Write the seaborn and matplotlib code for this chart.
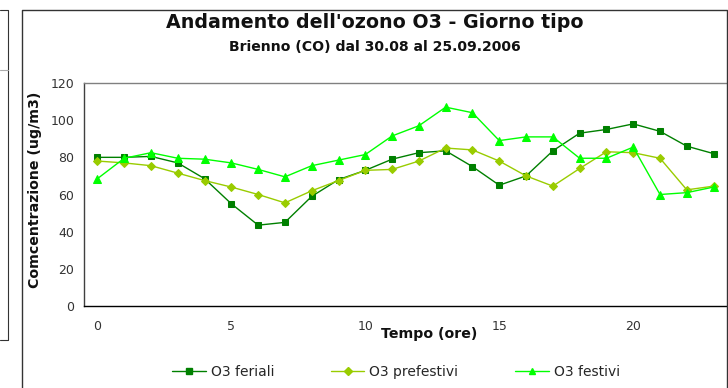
import numpy as np
import pandas as pd
import matplotlib
matplotlib.use("Agg")
import matplotlib.pyplot as plt
from matplotlib.lines import Line2D
import seaborn as sns

# ore del giorno tipo
ore = list(range(24))

feriali = [80, 80, 80.5, 77, 68.5, 55, 43.5, 45, 59, 68, 73, 79,
           82.5, 83.5, 75, 65, 70, 83.5, 93, 95, 98, 94, 86, 82]
prefestivi = [78, 77, 75.5, 71.5, 67.5, 64, 60, 55.5, 62, 67.5, 73, 73.5,
              78, 85, 84, 78, 70, 64.5, 74, 83, 82.5, 79.5, 62.5, 64.5]
festivi = [68.5, 79.5, 82.5, 79.5, 79, 77, 73.5, 69.5, 75.5, 78.5, 81.5, 91.5,
           97, 107, 104, 89, 91, 91, 79.5, 79.5, 85.5, 60, 61, 64]

serie = ["O3 feriali", "O3 prefestivi", "O3 festivi"]
colori = ["#008000", "#99CC00", "#00FF00"]
marker = ["s", "D", "^"]
msize = [4.5, 4.5, 6]

df = pd.DataFrame({"ora": ore, serie[0]: feriali, serie[1]: prefestivi, serie[2]: festivi})

sns.set_style("white")
plt.rcParams["font.family"] = ["DejaVu Sans"]

fig = plt.figure(figsize=(7.28, 3.88), dpi=100)
ax = fig.add_axes([84 / 728, 1 - 306 / 388, 643 / 728, 223 / 388])

for nome, col, mk, ms in zip(serie, colori, marker, msize):
    sns.lineplot(data=df, x="ora", y=nome, color=col, marker=mk, markersize=ms,
                 linewidth=1, ax=ax, legend=False)
for ln, col in zip(ax.get_lines(), colori):
    ln.set_markeredgecolor(col)
    ln.set_markerfacecolor(col)

ax.set_xlim(-0.5, 23.5)
ax.set_ylim(0, 120)
ax.set_yticks(range(0, 121, 20))
ax.set_xticks([0, 5, 10, 15, 20])
ax.set_xticks(np.arange(-0.5, 23, 1), minor=True)
ax.tick_params(axis="x", which="major", length=0, pad=10, labelsize=9, colors="#333333")
ax.tick_params(axis="x", which="minor", length=4, width=0.8, direction="out", color="#333333")
ax.tick_params(axis="y", length=4, width=0.8, direction="out", pad=3, labelsize=9,
               colors="#333333")

ax.spines["top"].set_color("#808080")
ax.spines["top"].set_linewidth(1)
ax.spines["right"].set_visible(False)
ax.spines["left"].set_color("#404040")
ax.spines["bottom"].set_color("#000000")
for s in ["left", "bottom"]:
    ax.spines[s].set_linewidth(1)

ax.set_xlabel("Tempo (ore)", fontsize=10.2, fontweight="bold", color="#111111")
ax.xaxis.set_label_coords(0.5365, -0.094)
ax.set_ylabel("Comcentrazione (ug/m3)", fontsize=10.2, fontweight="bold", color="#111111")
ax.yaxis.set_label_coords(-0.0653, 0.52)

fig.text(0.515, 0.943, "Andamento dell'ozono O3 - Giorno tipo", ha="center", va="center",
         fontsize=13.7, fontweight="bold", color="#111111")
fig.text(0.515, 0.879, "Brienno (CO) dal 30.08 al 25.09.2006", ha="center", va="center",
         fontsize=10.1, fontweight="bold", color="#111111")

handles = [Line2D([], [], color=c, marker=m, markersize=4.5, linewidth=1,
                  markeredgecolor=c) for c, m in zip(colori, marker)]
fig.legend(handles, serie, loc="center", bbox_to_anchor=(396 / 728, 0.041), ncol=3,
           frameon=False, fontsize=10, handlelength=2.4, handletextpad=0.36,
           columnspacing=4.1)

# cornice del grafico e bordo del grafico a sinistra
x0, x1, ytop = 22 / 728, 726.5 / 728, 1 - 10 / 388
fig.add_artist(Line2D([x0, x0, x1, x1], [0, ytop, ytop, 0], color="#333333", lw=1))
fig.add_artist(Line2D([0, 8 / 728, 8 / 728, 0], [ytop, ytop, 1 - 340 / 388, 1 - 340 / 388],
                      color="#333333", lw=0.8))
fig.add_artist(Line2D([0, 8 / 728], [1 - 70 / 388, 1 - 70 / 388], color="#aaaaaa", lw=0.8))

fig.savefig("out.png", dpi=100)
